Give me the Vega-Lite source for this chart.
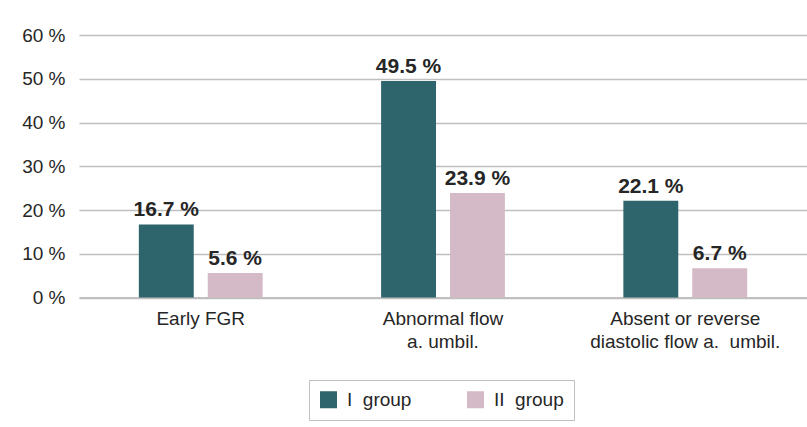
{
  "$schema": "https://vega.github.io/schema/vega-lite/v6.json",
  "autosize": {"type": "none"},
  "width": 728,
  "height": 262.5,
  "padding": {"left": 79, "top": 35, "right": 0, "bottom": 129.5},
  "background": "white",
  "config": {
    "font": "Liberation Sans",
    "view": {"stroke": null},
    "axis": {"labelFont": "Liberation Sans", "labelColor": "#262626", "labelFontSize": 19}
  },
  "data": {
    "values": [
      {"category": "Early FGR", "group": "I group", "value": 16.7},
      {"category": "Early FGR", "group": "II group", "value": 5.6},
      {"category": "Abnormal flow|a. umbil.", "group": "I group", "value": 49.5},
      {"category": "Abnormal flow|a. umbil.", "group": "II group", "value": 23.9},
      {"category": "Absent or reverse|diastolic flow a.\u00a0 umbil.", "group": "I group", "value": 22.1},
      {"category": "Absent or reverse|diastolic flow a.\u00a0 umbil.", "group": "II group", "value": 6.7}
    ]
  },
  "transform": [
    {"calculate": "format(datum.value, '.1f') + ' %'", "as": "label"}
  ],
  "encoding": {
    "x": {
      "field": "category",
      "type": "nominal",
      "sort": null,
      "title": null,
      "scale": {"paddingInner": 0.489, "paddingOuter": 0.247},
      "axis": {
        "labelAngle": 0,
        "labelExpr": "split(datum.label, '|')",
        "labelLineHeight": 23,
        "labelPadding": 12,
        "labelLimit": 300,
        "ticks": false,
        "domainColor": "#bfbfbf",
        "domainWidth": 2,
        "grid": false
      }
    },
    "xOffset": {
      "field": "group",
      "type": "nominal",
      "scale": {"paddingInner": 0.203, "paddingOuter": 0}
    }
  },
  "layer": [
    {
      "mark": {"type": "bar"},
      "encoding": {
        "y": {
          "field": "value",
          "type": "quantitative",
          "title": null,
          "scale": {"domain": [0, 60], "nice": false},
          "axis": {
            "values": [0, 10, 20, 30, 40, 50, 60],
            "labelExpr": "datum.value + ' %'",
            "ticks": false,
            "domain": false,
            "labelPadding": 14,
            "gridColor": "#bfbfbf",
            "gridWidth": 1.5
          }
        },
        "color": {
          "field": "group",
          "type": "nominal",
          "scale": {"domain": ["I group", "II group"], "range": ["#2e646b", "#d4b9c7"]},
          "legend": {
            "title": null,
            "orient": "none",
            "direction": "horizontal",
            "legendX": 230,
            "legendY": 345,
            "symbolType": "square",
            "symbolSize": 289,
            "symbolStrokeWidth": 0,
            "labelFontSize": 19,
            "labelFont": "Liberation Sans",
            "labelColor": "#262626",
            "labelOffset": 9,
            "columnPadding": 54,
            "padding": 10,
            "strokeColor": "#bfbfbf",
            "labelExpr": "datum.label == 'I group' ? 'I\u00a0 group' : 'II\u00a0 group'"
          }
        }
      }
    },
    {
      "mark": {"type": "text", "fontWeight": "bold", "fontSize": 21, "dy": -8, "baseline": "alphabetic", "color": "#262626", "font": "Liberation Sans"},
      "encoding": {
        "y": {"field": "value", "type": "quantitative"},
        "text": {"field": "label"}
      }
    }
  ]
}
